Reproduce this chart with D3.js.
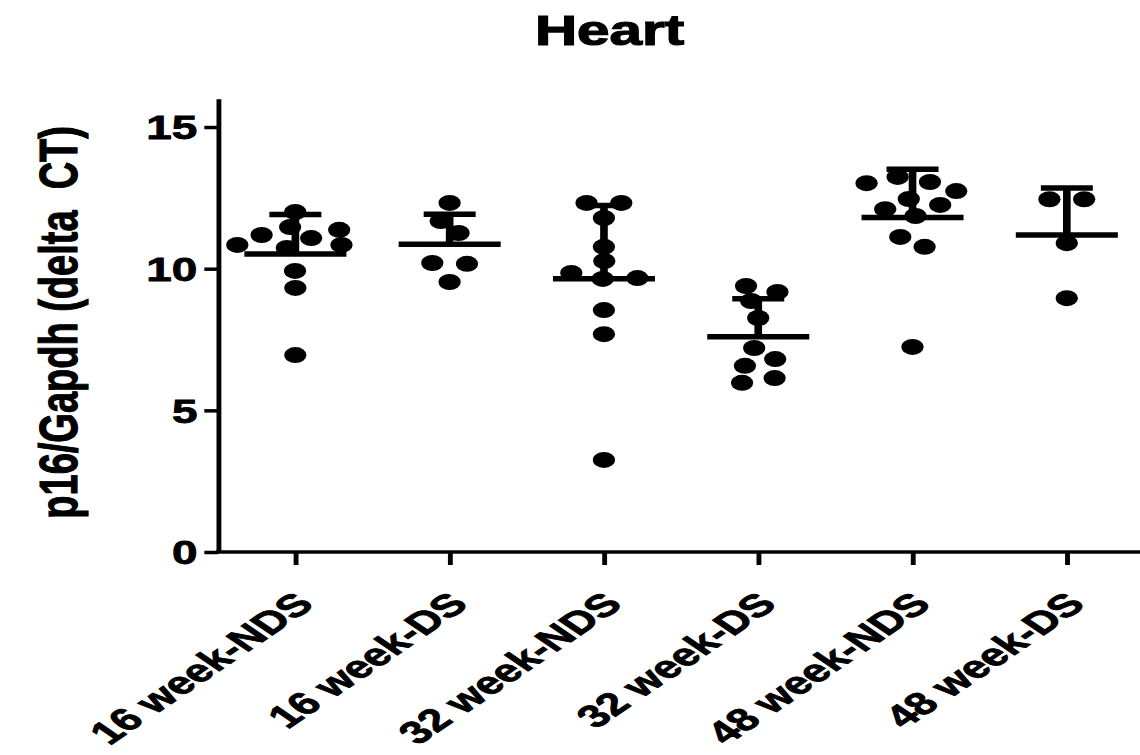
<!DOCTYPE html>
<html>
<head>
<meta charset="utf-8">
<script src="https://cdn.jsdelivr.net/npm/d3@7"></script>
<style>
  html, body { margin: 0; padding: 0; background: #fff; }
  svg { display: block; }
  text { font-family: "Liberation Sans", Arial, sans-serif; font-weight: bold; fill: #000; stroke: #000; stroke-width: 0.8px; }
</style>
</head>
<body>
<svg id="chart" width="1140" height="755"></svg>
<script>
// Groups along the x axis
const categories = ["16 week-NDS", "16 week-DS", "32 week-NDS", "32 week-DS", "48 week-NDS", "48 week-DS"];

// p16/Gapdh delta CT per animal, one array per group
const wk16NDS = [12.0, 11.47, 11.37, 11.19, 11.08, 10.84, 10.84, 10.73, 9.92, 9.32, 6.95];
const wk16DS  = [12.32, 11.68, 11.26, 10.2, 10.17, 9.53];
const wk32NDS = [12.32, 12.32, 11.79, 10.77, 10.27, 9.85, 9.67, 9.64, 8.54, 7.69, 3.25];
const wk32DS  = [9.39, 9.18, 8.86, 8.26, 7.2, 6.81, 6.57, 6.14, 5.97];
const wk48NDS = [13.24, 13.06, 13.02, 12.74, 12.46, 12.25, 12.1, 11.86, 11.12, 10.77, 7.24];
const wk48DS  = [12.45, 12.45, 10.9, 8.96];

const yTicks = [0, 5, 10, 15];
const titleText = "Heart";
const yTitle = "p16/Gapdh (delta  CT)";

const groups = [wk16NDS, wk16DS, wk32NDS, wk32DS, wk48NDS, wk48DS];

// The figure is laid out in its own units and widened horizontally as a whole
const K = 1.39;
const W = 1140, H = 755;
const plotLeft = 157, plotRight = 823, plotBottom = 552, plotTop = 98.7;
const axisW = 3.5, barW = 5.5, dotR = 8;

const svg = d3.select("#chart");
svg.append("rect").attr("width", W).attr("height", H).attr("fill", "#fff");
const g = svg.append("g").attr("transform", `scale(${K},1)`);

const x = d3.scalePoint().domain(categories).range([plotLeft, plotRight]).padding(0.5);
const y = d3.scaleLinear().domain([0, 16]).range([plotBottom, plotTop]);

// Title
g.append("text")
  .attr("x", 438.5).attr("y", 45)
  .attr("text-anchor", "middle")
  .style("font-size", "42px")
  .style("stroke-width", "1.2px")
  .text(titleText);

// Y axis
const yAxis = g.append("g")
  .attr("transform", `translate(${plotLeft},0)`)
  .call(d3.axisLeft(y).tickValues(yTicks).tickSize(10).tickSizeOuter(0).tickPadding(5));
yAxis.select(".domain").attr("stroke", "#000").attr("stroke-width", axisW);
yAxis.selectAll(".tick line").attr("stroke", "#000").attr("stroke-width", axisW);
yAxis.selectAll(".tick text")
  .style("font-size", "33px").style("font-family", "'Liberation Sans', Arial, sans-serif")
  .style("font-weight", "bold").attr("fill", "#000").attr("dy", "0.36em");

// X axis
const xAxis = g.append("g")
  .attr("transform", `translate(0,${plotBottom})`)
  .call(d3.axisBottom(x).tickSize(13).tickSizeOuter(0).tickFormat(""));
xAxis.select(".domain").attr("stroke", "#000").attr("stroke-width", axisW)
  .attr("d", `M${plotLeft - axisW / 2},0H${plotRight}`);
xAxis.selectAll(".tick line").attr("stroke", "#000").attr("stroke-width", axisW);

// Rotated category labels, slightly widened
g.selectAll(".xlab")
  .data(categories)
  .join("text")
  .attr("class", "xlab")
  .attr("text-anchor", "end")
  .attr("transform", d => `translate(${x(d) + 14.5},606) scale(1.06,1) rotate(-45)`)
  .style("font-size", "31.5px")
  .text(d => d);

// Y axis title
g.append("text")
  .attr("transform", `translate(55.4,${(plotTop + plotBottom) / 2 - 3}) rotate(-90)`)
  .attr("text-anchor", "middle")
  .style("font-size", "38px")
  .style("white-space", "pre")
  .text(yTitle);

// Spread points of a column sideways so they do not pile up;
// vertical gaps count more than horizontal ones when checking for overlap
function spread(values) {
  const vy = 1.8;
  const nodes = values.map(v => ({ x: 0, fy: y(v) * vy, y: y(v) * vy }));
  const sim = d3.forceSimulation(nodes)
    .force("x", d3.forceX(0).strength(0.06))
    .force("collide", d3.forceCollide(12.5).iterations(3))
    .stop();
  for (let i = 0; i < 300; i++) sim.tick();
  return nodes.map(n => n.x);
}

groups.forEach((vals, gi) => {
  const cx = x(categories[gi]);
  const offs = spread(vals);
  const col = g.append("g");
  col.selectAll("circle")
    .data(vals)
    .join("circle")
    .attr("cx", (d, i) => cx + offs[i])
    .attr("cy", d => y(d))
    .attr("r", dotR)
    .attr("fill", "#000");

  const m = d3.mean(vals), sd = d3.deviation(vals);
  // mean line
  col.append("line")
    .attr("x1", cx - 36.7).attr("x2", cx + 36.7)
    .attr("y1", y(m)).attr("y2", y(m))
    .attr("stroke", "#000").attr("stroke-width", barW);
  // upper SD bar and cap
  col.append("line")
    .attr("x1", cx).attr("x2", cx)
    .attr("y1", y(m)).attr("y2", y(m + sd))
    .attr("stroke", "#000").attr("stroke-width", barW);
  col.append("line")
    .attr("x1", cx - 18.7).attr("x2", cx + 18.7)
    .attr("y1", y(m + sd)).attr("y2", y(m + sd))
    .attr("stroke", "#000").attr("stroke-width", barW);
});
</script>
</body>
</html>
